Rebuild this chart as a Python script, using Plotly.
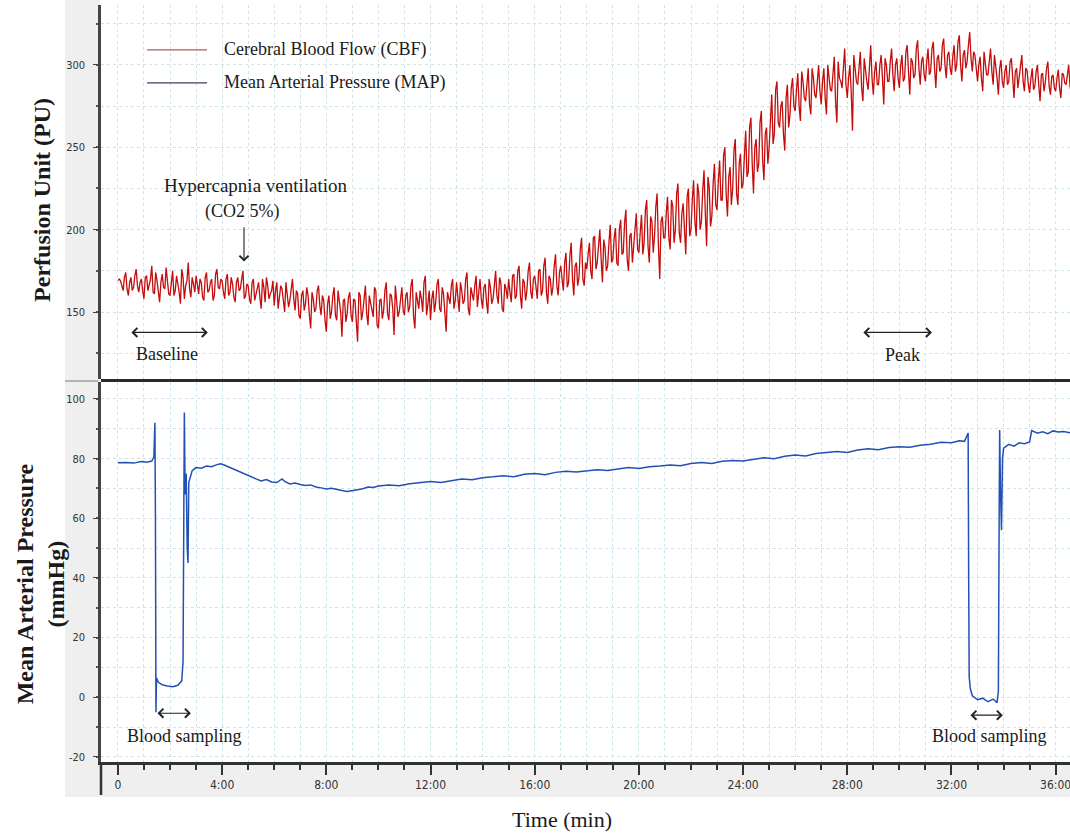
import numpy as np
import plotly.graph_objects as go
from plotly.subplots import make_subplots

# ---------------- data ----------------
# Cerebral blood flow (laser Doppler, PU), sampled every 0.05 min:
# cbf_on_step holds the samples at t = k*0.1, cbf_half_step those at t = k*0.1 + 0.05
CBF_STEP_MIN = 0.1
cbf_on_step = [
    169, 169, 163, 174, 160, 171, 165, 176, 162, 170,
    158, 172, 166, 178, 161, 169, 156, 173, 164, 170,
    160, 175, 163, 168, 155, 171, 166, 180, 159, 167,
    172, 161, 168, 157, 174, 163, 170, 160, 176, 164,
    169, 158, 173, 162, 167, 156, 171, 164, 175, 160,
    166, 155, 170, 161, 168, 152, 165, 171, 158, 163,
    154, 168, 159, 164, 150, 162, 157, 170, 151, 161,
    146, 163, 155, 160, 140, 158, 152, 166, 148, 157,
    138, 160, 150, 165, 145, 156, 135, 158, 149, 162,
    144, 157, 132, 160, 150, 166, 142, 155, 147, 163,
    140, 158, 151, 168, 145, 160, 136, 155, 150, 165,
    148, 162, 153, 170, 140, 157, 163, 150, 172, 155,
    145, 163, 156, 170, 150, 161, 138, 158, 166, 152,
    168, 150, 163, 157, 174, 148, 160, 166, 153, 170,
    152, 167, 149, 165, 158, 175, 155, 168, 150, 164,
    170, 156, 173, 160, 178, 152, 168, 163, 180, 158,
    172, 158, 176, 163, 183, 155, 170, 165, 185, 160,
    178, 163, 186, 168, 192, 160, 180, 171, 195, 166,
    176, 192, 170, 196, 180, 200, 168, 189, 178, 203,
    182, 201, 178, 206, 186, 212, 175, 198, 189, 210,
    186, 209, 192, 218, 180, 205, 196, 222, 170, 208,
    195, 220, 188, 214, 200, 228, 192, 216, 185, 225,
    200, 230, 196, 222, 205, 236, 190, 226, 208, 240,
    212, 242, 218, 250, 208, 238, 225, 255, 215, 246,
    228, 260, 235, 268, 222, 255, 240, 272, 230, 262,
    250, 282, 258, 290, 262, 278, 248, 288, 270, 292,
    272, 295, 266, 290, 278, 298, 270, 292, 280, 300,
    276, 298, 270, 294, 284, 305, 265, 292, 286, 310,
    280, 300, 260, 298, 288, 308, 278, 296, 285, 312,
    282, 302, 288, 306, 276, 300, 290, 310, 284, 304,
    286, 306, 292, 312, 282, 302, 294, 315, 288, 305,
    290, 310, 296, 314, 286, 306, 298, 316, 292, 308,
    294, 312, 300, 318, 290, 309, 302, 320, 296, 306,
    290, 305, 284, 302, 294, 310, 288, 300, 282, 303,
    286, 300, 290, 304, 280, 298, 292, 306, 284, 297,
    283, 298, 287, 300, 278, 295, 289, 302, 282, 294,
    284, 297, 280, 294, 288, 300, 283, 292, 286,
]
cbf_half_step = [
    170, 165, 171, 164, 168, 163, 172, 166, 168, 163,
    171, 163, 170, 162, 174, 160, 168, 165, 177, 161,
    169, 160, 172, 162, 176, 158, 169, 164, 171, 162,
    165, 170, 159, 171, 162, 168, 157, 173, 165, 170,
    162, 170, 160, 171, 159, 168, 163, 170, 158, 167,
    158, 168, 157, 166, 159, 170, 156, 166, 161, 169,
    163, 152, 166, 155, 168, 153, 165, 158, 163, 148,
    160, 151, 165, 148, 162, 150, 163, 154, 160, 145,
    155, 146, 160, 148, 163, 150, 157, 144, 159, 148,
    158, 147, 162, 145, 158, 149, 160, 150, 165, 142,
    157, 146, 163, 149, 161, 152, 166, 147, 160, 151,
    160, 150, 166, 147, 162, 152, 158, 168, 148, 163,
    158, 150, 167, 152, 165, 148, 162, 155, 170, 157,
    157, 168, 155, 170, 152, 165, 157, 172, 160, 158,
    165, 156, 170, 155, 166, 160, 171, 152, 167, 158,
    162, 172, 158, 175, 160, 170, 157, 175, 162, 170,
    165, 175, 160, 178, 162, 172, 160, 178, 166, 174,
    170, 180, 165, 184, 170, 178, 166, 188, 170, 180,
    185, 175, 195, 176, 190, 182, 194, 175, 192, 180,
    195, 180, 200, 185, 204, 182, 196, 180, 203, 188,
    198, 185, 212, 190, 208, 186, 214, 190, 205, 195,
    210, 195, 218, 192, 222, 198, 210, 200, 220, 196,
    218, 205, 228, 200, 224, 210, 232, 202, 228, 215,
    230, 218, 245, 222, 232, 215, 248, 222, 240, 225,
    245, 232, 262, 240, 250, 235, 265, 242, 258, 240,
    266, 252, 285, 265, 275, 258, 280, 262, 286, 275,
    285, 275, 296, 280, 288, 276, 298, 282, 290, 284,
    290, 280, 300, 285, 296, 278, 302, 290, 298, 288,
    292, 284, 306, 290, 298, 286, 304, 290, 300, 292,
    296, 288, 300, 292, 304, 290, 302, 294, 300, 292,
    300, 290, 308, 296, 304, 292, 310, 298, 302, 294,
    302, 294, 310, 298, 304, 296, 312, 300, 306, 298,
    305, 296, 314, 300, 306, 298, 312, 304, 308, 298,
    300, 292, 308, 294, 302, 296, 306, 292, 298, 290,
    296, 288, 302, 292, 296, 286, 300, 290, 298, 288,
    292, 285, 296, 288, 294, 284, 298, 287, 293, 286,
    292, 286, 295, 289, 294, 287, 296, 290, 291,
]

cbf_t, cbf = [], []
for k, (a, b) in enumerate(zip(cbf_on_step, cbf_half_step)):
    cbf_t += [k * CBF_STEP_MIN, k * CBF_STEP_MIN + CBF_STEP_MIN / 2]
    cbf += [a, b]

# Mean arterial pressure (mmHg) at irregular times (min)
map_t = [
    0.0, 0.3, 0.6, 0.9, 1.1, 1.3, 1.38, 1.42, 1.44, 1.46, 1.48, 1.55, 1.7, 1.9,
    2.1, 2.3, 2.45, 2.50, 2.53, 2.55, 2.58, 2.62, 2.66, 2.69, 2.72, 2.78, 2.85,
    3.0, 3.2, 3.4, 3.6, 3.8, 3.95, 4.1, 4.3, 4.5, 4.7, 4.9, 5.1, 5.3, 5.5, 5.7,
    5.9, 6.1, 6.3, 6.4, 6.6, 6.8, 7.0, 7.2, 7.4, 7.6, 7.8, 8.0, 8.2, 8.4, 8.6,
    8.8, 9.0, 9.2, 9.4, 9.6, 9.8, 10.0, 10.4, 10.8, 11.2, 11.6, 12.0, 12.4,
    12.8, 13.2, 13.6, 14.0, 14.4, 14.8, 15.2, 15.6, 16.0, 16.4, 16.8, 17.2,
    17.6, 18.0, 18.4, 18.8, 19.2, 19.6, 20.0, 20.4, 20.8, 21.2, 21.6, 22.0,
    22.4, 22.8, 23.2, 23.6, 24.0, 24.4, 24.8, 25.2, 25.6, 26.0, 26.4, 26.8,
    27.2, 27.6, 28.0, 28.4, 28.8, 29.2, 29.6, 30.0, 30.4, 30.8, 31.2, 31.6,
    32.0, 32.3, 32.5, 32.6, 32.64, 32.66, 32.68, 32.72, 32.8, 33.0, 33.2,
    33.4, 33.6, 33.75, 33.80, 33.83, 33.85, 33.88, 33.92, 33.96, 34.0, 34.2,
    34.4, 34.6, 34.8, 35.0, 35.08, 35.3, 35.5, 35.7, 35.9, 36.1, 36.3, 36.55,
]
map_v = [
    78.6, 78.7, 78.5, 79.0, 78.8, 79.2, 80.5, 92.0, 60.0, -5.0, 6.5, 5.0, 4.2, 3.8,
    3.5, 4.0, 5.5, 12.0, 70.0, 95.5, 68.0, 75.0, 50.0, 45.0, 72.0, 74.0, 76.0,
    77.0, 76.8, 77.5, 77.3, 78.0, 78.3, 77.8, 77.0, 76.2, 75.5, 74.8, 74.0, 73.2,
    72.5, 73.0, 72.2, 72.0, 73.2, 72.4, 71.5, 71.8, 71.3, 71.0, 71.2, 70.5, 70.2,
    69.8, 70.1, 69.6, 69.3, 69.0, 69.2, 69.6, 69.9, 70.5, 70.3, 70.8, 71.2, 70.9,
    71.6, 71.9, 72.3, 72.0, 72.6, 73.2, 72.9, 73.6, 73.9, 74.3, 73.9, 74.8, 75.0,
    74.6, 75.4, 75.8, 75.5, 76.0, 76.3, 76.0, 76.6, 77.0, 76.7, 77.3, 77.5, 77.9,
    77.6, 78.4, 78.7, 78.4, 79.1, 79.4, 79.2, 79.8, 80.3, 80.0, 80.8, 81.2, 80.9,
    81.7, 82.0, 82.4, 82.1, 82.9, 83.3, 83.0, 83.7, 84.0, 83.8, 84.5, 84.8, 85.5,
    85.3, 86.0, 85.8, 87.5, 88.6, 40.0, 7.0, 3.0, 0.5, -0.8, -0.3, -1.5, -0.6,
    -1.8, 2.0, 60.0, 89.6, 70.0, 56.0, 80.0, 83.5, 84.8, 84.2, 85.3, 85.0, 85.6,
    89.4, 88.5, 89.0, 88.4, 89.3, 88.9, 89.1, 88.7,
]

# axis ticks
time_tick_vals = [0, 4, 8, 12, 16, 20, 24, 28, 32, 36]
time_tick_text = ["0", "4:00", "8:00", "12:00", "16:00", "20:00", "24:00",
                  "28:00", "32:00", "36:00"]
pu_tick_vals = [150, 200, 250, 300]
pu_tick_text = ["150", "200", "250", "300"]
map_tick_vals = [-20, 0, 20, 40, 60, 80, 100]
map_tick_text = ["-20", "0", "20", "40", "60", "80", "100"]

# ---------------- styling ----------------
SERIF = "Liberation Serif, Times New Roman, serif"
NARROW = "Liberation Sans Narrow, DejaVu Sans Condensed, Arial Narrow, sans-serif"
GRID = dict(gridcolor="#cbe6eb", griddash="dot", gridwidth=1)
TXT = "#1a1a1a"

fig = make_subplots(rows=2, cols=1, shared_xaxes=True)

fig.add_trace(go.Scatter(x=cbf_t, y=cbf, mode="lines",
                         line=dict(color="#c40c0c", width=1.3),
                         name="Cerebral Blood Flow (CBF)", showlegend=False),
              row=1, col=1)
fig.add_trace(go.Scatter(x=map_t, y=map_v, mode="lines",
                         line=dict(color="#2350b4", width=1.5),
                         name="Mean Arterial Pressure (MAP)", showlegend=False),
              row=2, col=1)

x_range = [-0.65, 36.55]
common_x = dict(range=x_range, tickmode="array", tickvals=time_tick_vals,
                showgrid=True, zeroline=False, **GRID)

fig.update_layout(
    width=1070, height=834,
    margin=dict(l=101, r=0, t=5, b=72),
    paper_bgcolor="white", plot_bgcolor="rgba(0,0,0,0)",
    showlegend=False,
    xaxis=dict(**common_x, showticklabels=False, ticks="", showline=False,
               minor=dict(tickmode="linear", tick0=0, dtick=1, showgrid=True, **GRID)),
    xaxis2=dict(**common_x, ticktext=time_tick_text, showticklabels=True,
                ticklabeloverflow="allow",
                ticks="outside", ticklen=10, tickwidth=1.5, tickcolor="#333",
                tickfont=dict(family=NARROW, size=12, color="#333"),
                showline=True, linewidth=2.5, linecolor="#333",
                minor=dict(tickmode="linear", tick0=0, dtick=1, showgrid=True,
                           ticks="outside", ticklen=5, tickwidth=1.5,
                           tickcolor="#333", **GRID)),
    yaxis=dict(domain=[0.5059, 1], range=[109.3, 336.4], tickmode="array",
               tickvals=pu_tick_vals, ticktext=pu_tick_text,
               zeroline=False, showgrid=True, **GRID,
               ticks="outside", ticklen=5, tickwidth=1.2, tickcolor="#444",
               ticklabelstandoff=6,
               tickfont=dict(family=NARROW, size=11, color="#333"),
               showline=True, linewidth=2.5, linecolor="#444",
               minor=dict(tickmode="linear", tick0=0, dtick=25, showgrid=True,
                          ticks="outside", ticklen=2, tickwidth=2,
                          tickcolor="#555", **GRID)),
    yaxis2=dict(domain=[0, 0.502], range=[-21.7, 105.7], tickmode="array",
                tickvals=map_tick_vals, ticktext=map_tick_text,
                zeroline=False, showgrid=True, **GRID,
                ticks="outside", ticklen=5, tickwidth=1.2, tickcolor="#444",
                ticklabelstandoff=6,
                tickfont=dict(family=NARROW, size=11, color="#333"),
                showline=True, linewidth=2.5, linecolor="#444",
                minor=dict(tickmode="linear", tick0=0, dtick=10, showgrid=True,
                           ticks="outside", ticklen=2, tickwidth=2,
                           tickcolor="#555", **GRID)),
)

# ---------------- frame pieces ----------------
shapes = [
    # grey strips behind the value and time scales
    dict(type="rect", xref="paper", yref="paper", x0=-0.0372, x1=-0.0012,
         y0=-0.0462, y1=1.0066, fillcolor="#efefef", line=dict(width=0), layer="below"),
    dict(type="rect", xref="paper", yref="paper", x0=-0.0372, x1=1,
         y0=-0.0462, y1=0, fillcolor="#efefef", line=dict(width=0), layer="below"),
    # divider between channels
    dict(type="line", xref="paper", yref="paper", x0=0, x1=1, y0=0.504, y1=0.504,
         line=dict(color="#2a2a2a", width=3)),
    dict(type="line", xref="paper", yref="paper", x0=-0.0372, x1=-0.003,
         y0=0.5033, y1=0.5033, line=dict(color="#b4b4b4", width=2)),
    # left edge of the time scale
    dict(type="line", xref="paper", yref="paper", x0=0, x1=0, y0=0, y1=-0.0436,
         line=dict(color="#333", width=2.5)),
    # legend keys
    dict(type="line", xref="paper", yref="paper", x0=0.0475, x1=0.1094,
         y0=0.9406, y1=0.9406, line=dict(color="#b25a5a", width=1.2)),
    dict(type="line", xref="paper", yref="paper", x0=0.0475, x1=0.1094,
         y0=0.8970, y1=0.8970, line=dict(color="#3c3c6a", width=1.2)),
]
fig.update_layout(shapes=shapes)

ann = []
CENTER = dict(xanchor="center", yanchor="middle", showarrow=False)
# axis titles
ann.append(dict(text="<b>Perfusion Unit (PU)</b>", xref="paper", yref="paper",
                x=-0.0609, y=0.7425, textangle=-90, **CENTER,
                font=dict(family=SERIF, size=24, color=TXT)))
ann.append(dict(text="<b>Mean Arterial Pressure</b><br><b>(mmHg)</b>",
                xref="paper", yref="paper",
                x=-0.0630, y=0.236, textangle=-90, **CENTER,
                font=dict(family=SERIF, size=24, color=TXT)))
ann.append(dict(text="Time (min)", xref="paper", yref="paper",
                x=0.4757, y=-0.0766, **CENTER,
                font=dict(family=SERIF, size=22, color=TXT)))
# legend texts
ann.append(dict(text="Cerebral Blood Flow (CBF)", xref="paper", yref="paper",
                x=0.1249, y=0.9406, xanchor="left", yanchor="middle", showarrow=False,
                font=dict(family=SERIF, size=18, color=TXT)))
ann.append(dict(text="Mean Arterial Pressure (MAP)", xref="paper", yref="paper",
                x=0.1249, y=0.8970, xanchor="left", yanchor="middle", showarrow=False,
                font=dict(family=SERIF, size=18, color=TXT)))

FONT_A = dict(family=SERIF, size=18, color=TXT)
ARROW = dict(showarrow=True, arrowhead=4, arrowsize=1.6, arrowwidth=1.1,
             arrowcolor="#222", text="")
# CBF channel notes
ann.append(dict(text="Hypercapnia ventilation", xref="x", yref="y", x=5.30, y=226.7,
                **CENTER, font=dict(family=SERIF, size=19, color=TXT)))
ann.append(dict(text="(CO2 5%)", xref="x", yref="y", x=4.80, y=211.0,
                **CENTER, font=FONT_A))
ann.append(dict(xref="x", yref="y", x=4.84, y=180.6, axref="x", ayref="y",
                ax=4.84, ay=202.4, **ARROW))
ann.append(dict(xref="x", yref="y", x=3.45, y=137.6, axref="x", ayref="y",
                ax=0.46, ay=137.6, arrowside="end+start", **ARROW))
ann.append(dict(text="Baseline", xref="x", yref="y", x=1.88, y=124.2,
                **CENTER, font=FONT_A))
ann.append(dict(xref="x", yref="y", x=31.25, y=137.6, axref="x", ayref="y",
                ax=28.56, ay=137.6, arrowside="end+start", **ARROW))
ann.append(dict(text="Peak", xref="x", yref="y", x=30.13, y=123.6,
                **CENTER, font=FONT_A))
# MAP channel notes
ann.append(dict(xref="x2", yref="y2", x=2.80, y=-5.35, axref="x2", ayref="y2",
                ax=1.46, ay=-5.35, arrowside="end+start", **ARROW))
ann.append(dict(text="Blood sampling", xref="x2", yref="y2", x=2.57, y=-13.0,
                **CENTER, font=FONT_A))
ann.append(dict(xref="x2", yref="y2", x=33.97, y=-6.0, axref="x2", ayref="y2",
                ax=32.67, ay=-6.0, arrowside="end+start", **ARROW))
ann.append(dict(text="Blood sampling", xref="x2", yref="y2", x=33.47, y=-13.0,
                **CENTER, font=FONT_A))
fig.update_layout(annotations=ann)

fig.write_html("out.html")
